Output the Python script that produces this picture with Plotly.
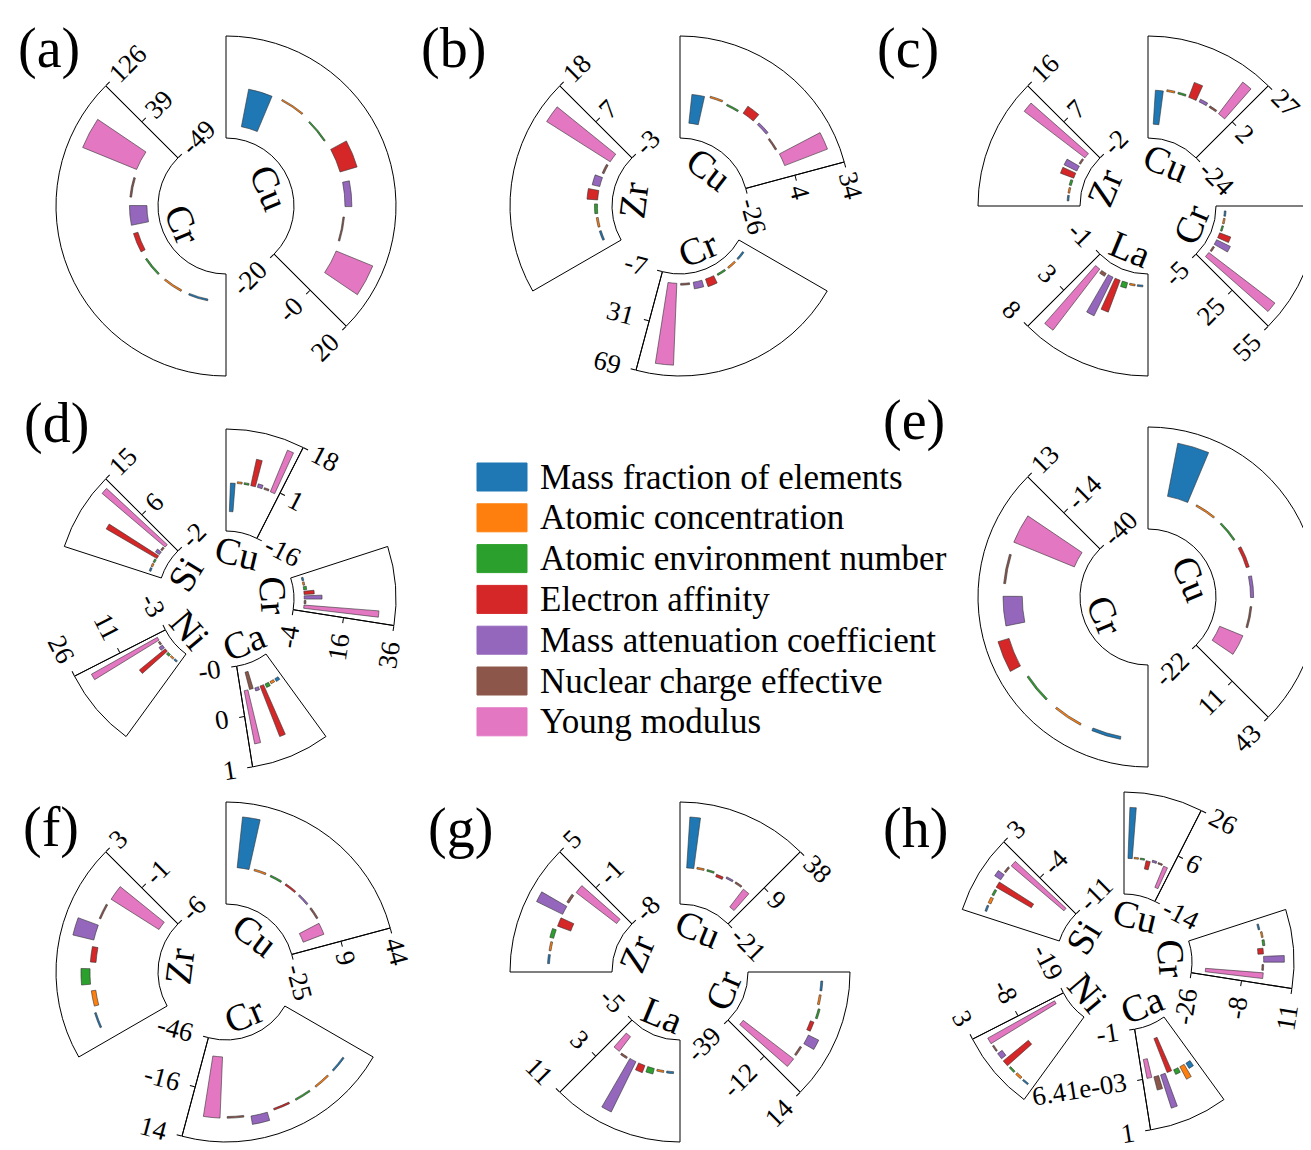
import math
import plotly.graph_objects as go

W, H = 1311, 1150
FONT = "Liberation Serif"

FEATURES = ["Mass fraction of elements", "Atomic concentration", "Atomic environment number",
            "Electron affinity", "Mass attenuation coefficient", "Nuclear charge effective", "Young modulus"]
COLORS = ["#1f77b4", "#ff7f0e", "#2ca02c", "#d62728", "#9467bd", "#8c564b", "#e377c2"]

# ---------------- data (values per feature, in FEATURES order) ----------------
a_elements = ["Cu", "Cr"]
a_ranges = [[-20, 20], [-49, 126]]
a_ticktext = [["-20", "-0", "20"], ["-49", "39", "126"]]
a_values = [[-15, 0.6, -0.6, 7, 2.7, -0.6, 15.5],
            [-3, -3, -3, -8, -30, -3, 100]]

b_elements = ["Cu", "Cr", "Zr"]
b_ranges = [[-26, 34], [-7, 69], [-3, 18]]
b_ticktext = [["-26", "4", "34"], ["-7", "31", "69"], ["-3", "7", "18"]]
b_values = [[-17, 1, -1, 5, 1.5, -1, 27],
            [1.3, 1.3, 1.3, 6, 5, 1.3, 61],
            [0.4, 0.4, 0.6, 2.2, 1.6, 0.4, 15.5]]

c_elements = ["Cu", "Cr", "La", "Zr"]
c_ranges = [[-24, 27], [-5, 55], [-1, 8], [-2, 16]]
c_ticktext = [["-24", "2", "27"], ["-5", "25", "55"], ["-1", "3", "8"], ["-2", "7", "16"]]
c_values = [[-17, 0.9, 0.9, 8, 1.5, 0.9, 20],
            [1, 1, 1, 7, 9, 1, 49],
            [0.15, 0.15, 0.5, 3, 3.8, 0.3, 6.8],
            [0.3, 0.3, 0.4, 2.5, 2.5, 0.3, 13.5]]

d_elements = ["Cu", "Cr", "Ca", "Ni", "Si"]
d_ranges = [[-16, 18], [-4, 36], [-0.4, 1.2], [-3, 26], [-2, 15]]
d_ticktext = [["-16", "1", "18"], ["-4", "16", "36"], ["-0", "0", "1"], ["-3", "11", "26"], ["-2", "6", "15"]]
d_values = [[-9.5, 0.6, 0.6, 9, 1.2, 0.6, 15],
            [0.7, 0.7, 1.2, 4, 7, 0.7, 29.5],
            [0.05, 0.04, 0.06, 0.85, 0.05, -0.28, 0.85],
            [0.5, 0.5, 0.7, 9.5, 1.2, 0.5, 21.5],
            [0.3, 0.3, 0.3, 9.8, 0.8, 0.3, 13.8]]

e_elements = ["Cu", "Cr"]
e_ranges = [[-22, 43], [-40, 13]]
e_ticktext = [["-22", "11", "43"], ["-40", "-14", "13"]]
e_values = [[34.5, 1.1, 1.1, 2, 2, 1.1, -16],
            [-1.5, -1, -1, 6, -10, -1, -34]]

f_elements = ["Cu", "Cr", "Zr"]
f_ranges = [[-25, 44], [-46, 14], [-6, 3]]
f_ticktext = [["-25", "9", "44"], ["-46", "-16", "14"], ["-6", "-1", "3"]]
f_values = [[34.5, 1.2, 1.2, 1.2, 1.2, 1.2, -15],
            [-1, -1, -1, -1, 5, -1, -36],
            [0.15, -0.4, 0.8, -0.5, 1.9, 0.15, -5]]

g_elements = ["Cu", "Cr", "La", "Zr"]
g_ranges = [[-21, 38], [-39, 14], [-5, 11], [-8, 5]]
g_ticktext = [["-21", "9", "38"], ["-39", "-12", "14"], ["-5", "3", "11"], ["-8", "-1", "5"]]
g_values = [[29.5, 1, 1, -1.5, 1, 1, -13],
            [-1, -1, 1, -2, 6, -1, -33],
            [0.3, 0.3, 0.9, 1.2, 8.8, 0.3, -2.9],
            [0.25, 0.25, 0.5, -1.8, 3.7, 0.3, -6.5]]

h_elements = ["Cu", "Cr", "Ca", "Ni", "Si"]
h_ranges = [[-14, 26], [-26, 11], [-1.0, 1.0128], [-19, 3], [-11, 3]]
h_ticktext = [["-14", "6", "26"], ["-26", "-8", "11"], ["-1", "6.41e-03", "1"], ["-19", "-8", "3"], ["-11", "-4", "3"]]
h_values = [[20, 0.6, 0.6, -3.3, 0.8, 0.6, -9],
            [-0.6, 0.6, 0.8, -2, 7.5, -0.6, -21],
            [0.12, 0.28, 0.1, -0.72, 0.69, 0.27, -0.38],
            [-0.35, -0.5, -0.4, -7, -1.2, -0.35, -16.5],
            [-0.25, -0.4, -0.3, -5.6, 1.0, 0.25, -9.5]]

PANELS = [
    ("(a)", a_elements, a_ranges, a_ticktext, a_values),
    ("(b)", b_elements, b_ranges, b_ticktext, b_values),
    ("(c)", c_elements, c_ranges, c_ticktext, c_values),
    ("(d)", d_elements, d_ranges, d_ticktext, d_values),
    ("(e)", e_elements, e_ranges, e_ticktext, e_values),
    ("(f)", f_elements, f_ranges, f_ticktext, f_values),
    ("(g)", g_elements, g_ranges, g_ticktext, g_values),
    ("(h)", h_elements, h_ranges, h_ticktext, h_values),
]

# ---------------- layout geometry (pixels) ----------------
CENTERS = [(218, 198), (672, 198), (1140, 198),
           (218, 591), (1140, 589),
           (218, 964), (672, 964), (1116, 954)]
LETTER_POS = [(41, 41), (445, 41), (900, 41), (48, 415), (906, 412), (43, 819), (452, 820), (907, 820)]
R_OUT = 170
HOLE = 0.4
GAP = 45
LABEL_R = 47


def sector_bbox(s0, s1):
    arc = s1 - s0
    a0 = s0 % 360
    a1 = a0 + arc
    ax0, ay0 = math.cos(math.radians(a0)), math.sin(math.radians(a0))
    ax1, ay1 = math.cos(math.radians(a1)), math.sin(math.radians(a1))
    if (a0 <= 90 and a1 >= 90) or (a0 > 90 and a1 >= 450):
        y1 = 1
    elif ay0 <= 0 and ay1 <= 0:
        y1 = 0
    else:
        y1 = max(ay0, ay1)
    if (a0 <= 180 and a1 >= 180) or (a0 > 180 and a1 >= 540):
        x0 = -1
    elif ax0 >= 0 and ax1 >= 0:
        x0 = 0
    else:
        x0 = min(ax0, ax1)
    if (a0 <= 270 and a1 >= 270) or (a0 > 270 and a1 >= 630):
        y0 = -1
    elif ay0 >= 0 and ay1 >= 0:
        y0 = 0
    else:
        y0 = min(ay0, ay1)
    if a1 >= 360:
        x1 = 1
    elif ax0 <= 0 and ax1 <= 0:
        x1 = 0
    else:
        x1 = max(ax0, ax1)
    return x0, y0, x1, y1


def clamp(v):
    return min(1.0, max(0.0, v))


def norm_angle(a):
    a = a % 360
    if a > 180:
        a -= 360
    return a


fig = go.Figure()
layout_updates = {}
annotations = []
k = 0
for p, (letter, elements, ranges, ticktexts, values) in enumerate(PANELS):
    cx, cy = CENTERS[p]
    n = len(elements)
    slot = 360.0 / n
    span = slot - GAP
    for j in range(n):
        k += 1
        name = "polar" if k == 1 else "polar%d" % k
        c0 = j * slot
        c1 = c0 + span
        s0, s1 = 90 - c1, 90 - c0
        x0, y0, x1, y1 = sector_bbox(s0, s1)
        dom_x = [clamp((cx + R_OUT * x0) / W), clamp((cx + R_OUT * x1) / W)]
        dom_y = [clamp(1 - (cy - R_OUT * y0) / H), clamp(1 - (cy - R_OUT * y1) / H)]
        lo, hi = ranges[j]
        step = span / 8.0
        thetas = [c0 + (i + 1) * step for i in range(len(FEATURES))]
        fig.add_trace(go.Barpolar(
            r=values[j], theta=thetas, base=0, width=[0.7 * step] * len(FEATURES),
            marker=dict(color=COLORS, line=dict(color="#333333", width=0.6)),
            subplot=name, showlegend=False, hoverinfo="skip"))
        tickangle = 90 if ((c1 + 90) % 360) <= 180 else -90
        layout_updates[name] = dict(
            domain=dict(x=dom_x, y=dom_y),
            sector=[s0, s1],
            hole=HOLE,
            bgcolor="rgba(0,0,0,0)",
            angularaxis=dict(rotation=90, direction="clockwise", thetaunit="degrees",
                             showticklabels=False, ticks="", showgrid=False,
                             showline=True, linecolor="black", linewidth=1),
            radialaxis=dict(range=[lo, hi], tickvals=[lo, (lo + hi) / 2.0, hi], ticktext=ticktexts[j],
                            showline=True, linecolor="black", linewidth=1, showgrid=False,
                            ticks="outside", ticklen=5, tickcolor="black",
                            tickfont=dict(family=FONT, size=27, color="black"),
                            angle=norm_angle(s0), side="clockwise", tickangle=tickangle),
        )
        # element label
        m = (c0 + c1) / 2.0
        lx = cx + LABEL_R * math.sin(math.radians(m))
        ly = cy - LABEL_R * math.cos(math.radians(m))
        ang = m
        if 90 < ang < 270:
            ang -= 180
        elif ang >= 270:
            ang -= 360
        annotations.append(dict(x=lx / W, y=1 - ly / H, xref="paper", yref="paper", text=elements[j],
                                showarrow=False, textangle=ang, xanchor="center", yanchor="middle",
                                font=dict(family=FONT, size=38, color="black")))
    lxp, lyp = LETTER_POS[p]
    annotations.append(dict(x=lxp / W, y=1 - lyp / H, xref="paper", yref="paper", text=letter,
                            showarrow=False, xanchor="center", yanchor="middle",
                            font=dict(family=FONT, size=56, color="black")))

# ---------------- legend (manual, large swatches) ----------------
shapes = []
LEG_X0, LEG_X1, LEG_TOP, LEG_STEP, LEG_H = 469, 519, 455, 40.8, 28
for i, (feat, col) in enumerate(zip(FEATURES, COLORS)):
    top = LEG_TOP + i * LEG_STEP
    shapes.append(dict(type="rect", xref="paper", yref="paper",
                       x0=LEG_X0 / W, x1=LEG_X1 / W, y0=1 - (top + LEG_H) / H, y1=1 - top / H,
                       fillcolor=col, line=dict(color=col, width=1)))
    annotations.append(dict(x=530 / W, y=1 - (top + LEG_H / 2) / H, xref="paper", yref="paper",
                            text=feat, showarrow=False, xanchor="left", yanchor="middle",
                            font=dict(family=FONT, size=35, color="black")))

fig.update_layout(width=W, height=H, margin=dict(l=0, r=0, t=0, b=0),
                  paper_bgcolor="white", plot_bgcolor="white", showlegend=False,
                  annotations=annotations, shapes=shapes, template="none", **layout_updates)
fig.write_html("out.html")
